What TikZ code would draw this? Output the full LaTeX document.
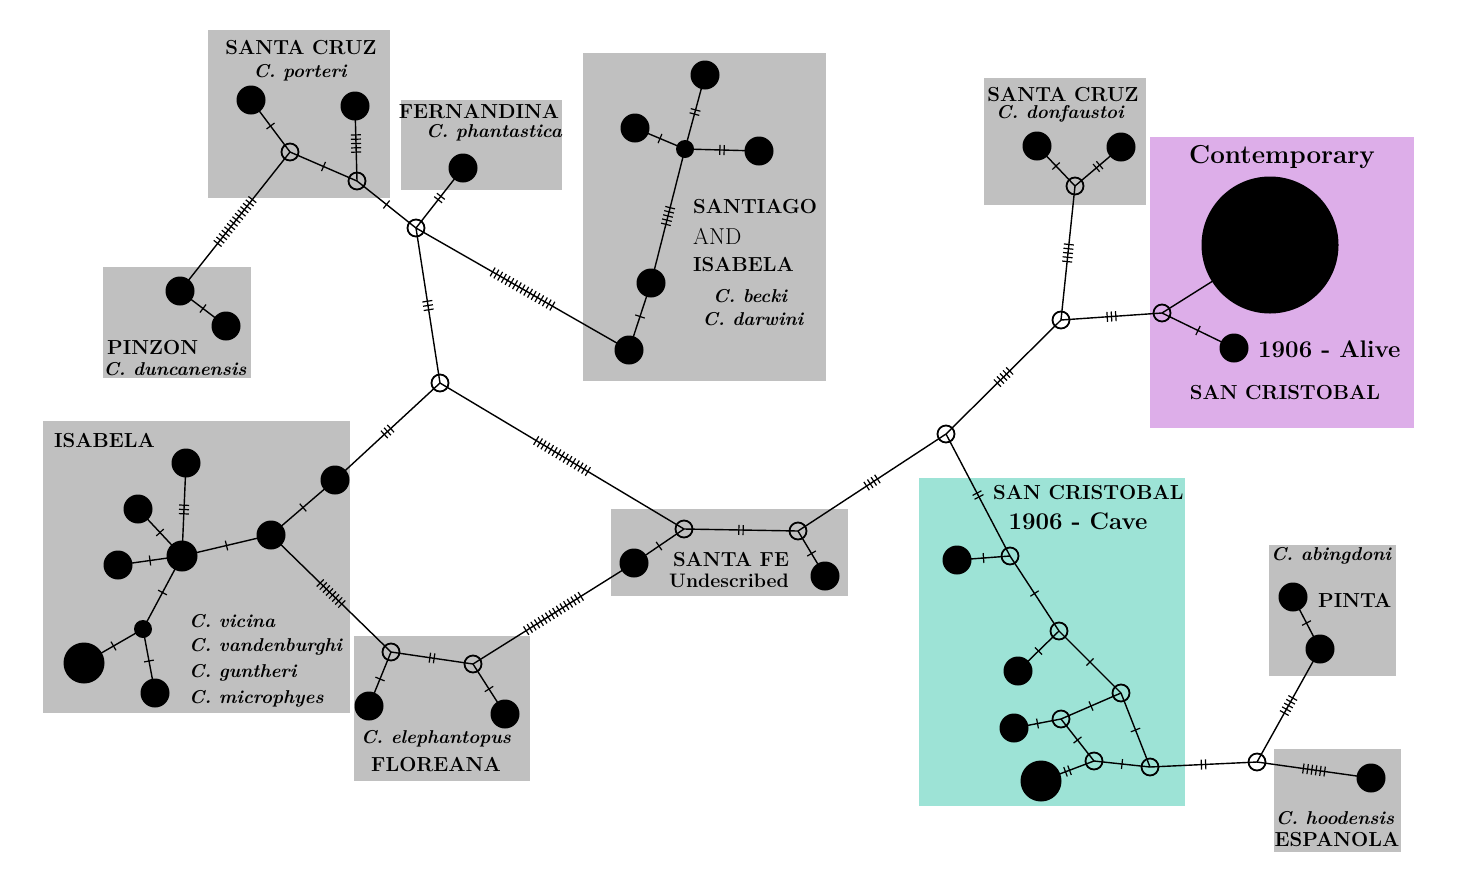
\documentclass[tikz,border=0pt]{standalone}
\usetikzlibrary{calc}
\pgfdeclarelayer{bg}
\pgfdeclarelayer{edges}
\pgfsetlayers{bg,edges,main}
\definecolor{boxgray}{RGB}{192,192,192}
\definecolor{lilac}{RGB}{221,174,233}
\definecolor{cavecol}{RGB}{157,227,214}
\tikzset{
  hap/.style={circle, fill=black, inner sep=0pt, minimum size=29pt},
  hapS/.style={circle, fill=black, inner sep=0pt, minimum size=18pt},
  hapM/.style={circle, fill=black, inner sep=0pt, minimum size=31pt},
  hapL/.style={circle, fill=black, inner sep=0pt, minimum size=41pt},
  hapXL/.style={circle, fill=black, inner sep=0pt, minimum size=137pt},
  med/.style={circle, draw=black, line width=1.8pt, inner sep=0pt, minimum size=17pt},
  edgeline/.style={line width=1.4pt},
  tickline/.style={line width=1.2pt},
  lab/.style={font=\fontsize{20.3}{24}\selectfont\bfseries, inner sep=0pt},
  labL/.style={font=\fontsize{24}{28}\selectfont\bfseries, inner sep=0pt},
  plain/.style={font=\fontsize{23}{26}\selectfont, inner sep=0pt},
  sp/.style={font=\fontsize{18.6}{22}\selectfont\bfseries\itshape, inner sep=0pt},
}
\newcommand\hapedge[3]{%
  \begin{pgfonlayer}{edges}
  \draw[edgeline] (#1.center) -- (#2.center);
  \coordinate (mid) at ($(#1.center)!0.5!(#2.center)$);
  \foreach \k in {1,...,#3}{%
    \pgfmathsetmacro\off{(\k-(#3+1)/2)*4.3}
    \coordinate (tk) at ($(mid)!\off pt!(#2.center)$);
    \draw[tickline] ($(tk)!5pt!90:(#2.center)$) -- ($(tk)!5pt!-90:(#2.center)$);
  }
  \end{pgfonlayer}}
\begin{document}
\begin{tikzpicture}[x=1pt,y=-1pt]
\useasboundingbox (0,0) rectangle (1474,868);
\begin{pgfonlayer}{bg}
  \fill[white] (0,0) rectangle (1474,868);
  \fill[boxgray] (208,30) rectangle (390,198);
  \fill[boxgray] (103,267) rectangle (251,378);
  \fill[boxgray] (401,100) rectangle (562,190);
  \fill[boxgray] (583,53) rectangle (826,381);
  \fill[boxgray] (43,421) rectangle (350,713);
  \fill[boxgray] (354,636) rectangle (530,781);
  \fill[boxgray] (611,509) rectangle (848,596);
  \fill[boxgray] (984,78) rectangle (1146,205);
  \fill[lilac] (1150,137) rectangle (1414,428);
  \fill[cavecol] (919,478) rectangle (1185,806);
  \fill[boxgray] (1269,545) rectangle (1396,676);
  \fill[boxgray] (1274,749) rectangle (1401,852);
\end{pgfonlayer}

% labels
\node[lab] (tSC) at (301,48) {SANTA CRUZ};
\node[sp] (tpor) at (300,73) {C. porteri};
\node[lab] (tFE) at (479,112) {FERNANDINA};
\node[sp] (tpha) at (494,133) {C. phantastica};
\node[lab, anchor=west] (tPZ) at (107,348) {PINZON};
\node[sp] (tdun) at (175,369) {C. duncanensis};
\node[lab, anchor=west] (tSA) at (693,207) {SANTIAGO};
\node[plain, anchor=west] (tAND) at (693,236) {AND};
\node[lab, anchor=west] (tISa) at (693,265) {ISABELA};
\node[sp] (tbec) at (750,296) {C. becki};
\node[sp] (tdar) at (753,319) {C. darwini};
\node[lab, anchor=west] (tIS) at (54,441) {ISABELA};
\node[sp, anchor=west] (tvic) at (189,621) {C. vicina};
\node[sp, anchor=west] (tvan) at (189,647) {C. vandenburghi};
\node[sp, anchor=west] (tgun) at (189,673) {C. guntheri};
\node[sp, anchor=west] (tmic) at (189,699) {C. microphyes};
\node[sp] (tele) at (436,739) {C. elephantopus};
\node[lab] (tFL) at (436,765) {FLOREANA};
\node[lab] (tSF) at (731,560) {SANTA FE};
\node[font=\fontsize{19.5}{22}\selectfont\bfseries, inner sep=0pt] (tund) at (729,581) {Undescribed};
\node[lab] (tSC2) at (1063,95) {SANTA CRUZ};
\node[sp] (tdon) at (1060,114) {C. donfaustoi};
\node[font=\fontsize{26}{30}\selectfont\bfseries, inner sep=0pt] (tcon) at (1282,157) {Contemporary};
\node[labL, anchor=west] (talive) at (1258,349) {1906 - Alive};
\node[lab] (tSCr) at (1285,393) {SAN CRISTOBAL};
\node[lab, anchor=west] (tSCc) at (993,493) {SAN CRISTOBAL};
\node[labL] (tcave) at (1078,521) {1906 - Cave};
\node[sp] (tabi) at (1331,556) {C. abingdoni};
\node[lab, anchor=west] (tPI) at (1318,600) {PINTA};
\node[sp] (thoo) at (1335,818) {C. hoodensis};
\node[lab] (tES) at (1337,840) {ESPANOLA};

% haplotypes
\node[hap] (sc1) at (251,100) {};
\node[hap] (sc2) at (355,106) {};
\node[med] (h1) at (290,152) {};
\node[med] (h2) at (357,181) {};
\node[med] (h3) at (416,228) {};
\node[hap] (pz1) at (180,291) {};
\node[hap] (pz2) at (226,326) {};
\node[hap] (fe) at (463,168) {};
\node[med] (h4) at (440,383) {};
\node[hap] (sa1) at (629,350) {};
\node[hap] (sa2) at (651,283) {};
\node[hapS] (sac) at (685,149) {};
\node[hap] (sa3) at (705,75) {};
\node[hap] (sa4) at (635,128) {};
\node[hap] (sa5) at (759,151) {};
\node[hap] (is1) at (335,480) {};
\node[hap] (is2) at (271,535) {};
\node[hapM] (is3) at (182,556) {};
\node[hap] (is4) at (186,463) {};
\node[hap] (is5) at (138,509) {};
\node[hap] (is6) at (118,565) {};
\node[hapS] (is7) at (143,629) {};
\node[hapL] (is8) at (84,663) {};
\node[hap] (is9) at (155,693) {};
\node[med] (fl1) at (391,652) {};
\node[med] (fl2) at (473,664) {};
\node[hap] (fl3) at (369,706) {};
\node[hap] (fl4) at (505,714) {};
\node[med] (sf1) at (684,529) {};
\node[med] (sf2) at (798,531) {};
\node[hap] (sfa) at (634,563) {};
\node[hap] (sfb) at (825,576) {};
\node[med] (h5) at (946,434) {};
\node[med] (h6) at (1061,320) {};
\node[med] (dz) at (1075,186) {};
\node[hap] (d1) at (1037,146) {};
\node[hap] (d2) at (1121,147) {};
\node[med] (h7) at (1162,313) {};
\node[hapXL] (big) at (1270,245) {};
\node[hap] (alive) at (1234,348) {};
\node[med] (c1) at (1010,556) {};
\node[hap] (k1) at (957,560) {};
\node[med] (c2) at (1059,631) {};
\node[hap] (k2) at (1018,671) {};
\node[med] (c3) at (1121,693) {};
\node[med] (c4) at (1061,719) {};
\node[hap] (k3) at (1014,728) {};
\node[med] (c5) at (1094,761) {};
\node[hapL] (k4) at (1041,781) {};
\node[med] (c6) at (1150,767) {};
\node[med] (h8) at (1257,762) {};
\node[hap] (pi2) at (1320,649) {};
\node[hap] (pi1) at (1293,597) {};
\node[hap] (es) at (1371,778) {};

% connectors
\hapedge{sc1}{h1}{1}
\hapedge{h2}{sc2}{5}
\hapedge{h1}{h2}{1}
\hapedge{h2}{h3}{1}
\hapedge{h1}{pz1}{14}
\hapedge{pz1}{pz2}{1}
\hapedge{h3}{fe}{2}
\hapedge{h3}{h4}{3}
\hapedge{h3}{sa1}{17}
\hapedge{sa1}{sa2}{1}
\hapedge{sa2}{sac}{5}
\hapedge{sac}{sa3}{2}
\hapedge{sac}{sa4}{1}
\hapedge{sac}{sa5}{2}
\hapedge{h4}{is1}{3}
\hapedge{h4}{sf1}{15}
\hapedge{is1}{is2}{1}
\hapedge{is2}{is3}{1}
\hapedge{is3}{is4}{3}
\hapedge{is3}{is5}{1}
\hapedge{is3}{is6}{1}
\hapedge{is3}{is7}{1}
\hapedge{is7}{is8}{1}
\hapedge{is7}{is9}{1}
\hapedge{is2}{fl1}{8}
\hapedge{fl1}{fl2}{2}
\hapedge{fl1}{fl3}{1}
\hapedge{fl2}{fl4}{1}
\hapedge{fl2}{sfa}{16}
\hapedge{sf1}{sf2}{2}
\hapedge{sf1}{sfa}{1}
\hapedge{sf2}{sfb}{1}
\hapedge{sf2}{h5}{4}
\hapedge{h5}{h6}{5}
\hapedge{h6}{dz}{5}
\hapedge{dz}{d1}{1}
\hapedge{dz}{d2}{2}
\hapedge{h6}{h7}{3}
\hapedge{h7}{big}{1}
\hapedge{h7}{alive}{1}
\hapedge{h5}{c1}{2}
\hapedge{c1}{k1}{1}
\hapedge{c1}{c2}{1}
\hapedge{c2}{k2}{1}
\hapedge{c2}{c3}{1}
\hapedge{c3}{c4}{1}
\hapedge{c4}{k3}{1}
\hapedge{c4}{c5}{1}
\hapedge{c5}{k4}{2}
\hapedge{c5}{c6}{1}
\hapedge{c3}{c6}{1}
\hapedge{c6}{h8}{2}
\hapedge{h8}{pi2}{5}
\hapedge{pi2}{pi1}{1}
\hapedge{h8}{es}{6}
\end{tikzpicture}
\end{document}
